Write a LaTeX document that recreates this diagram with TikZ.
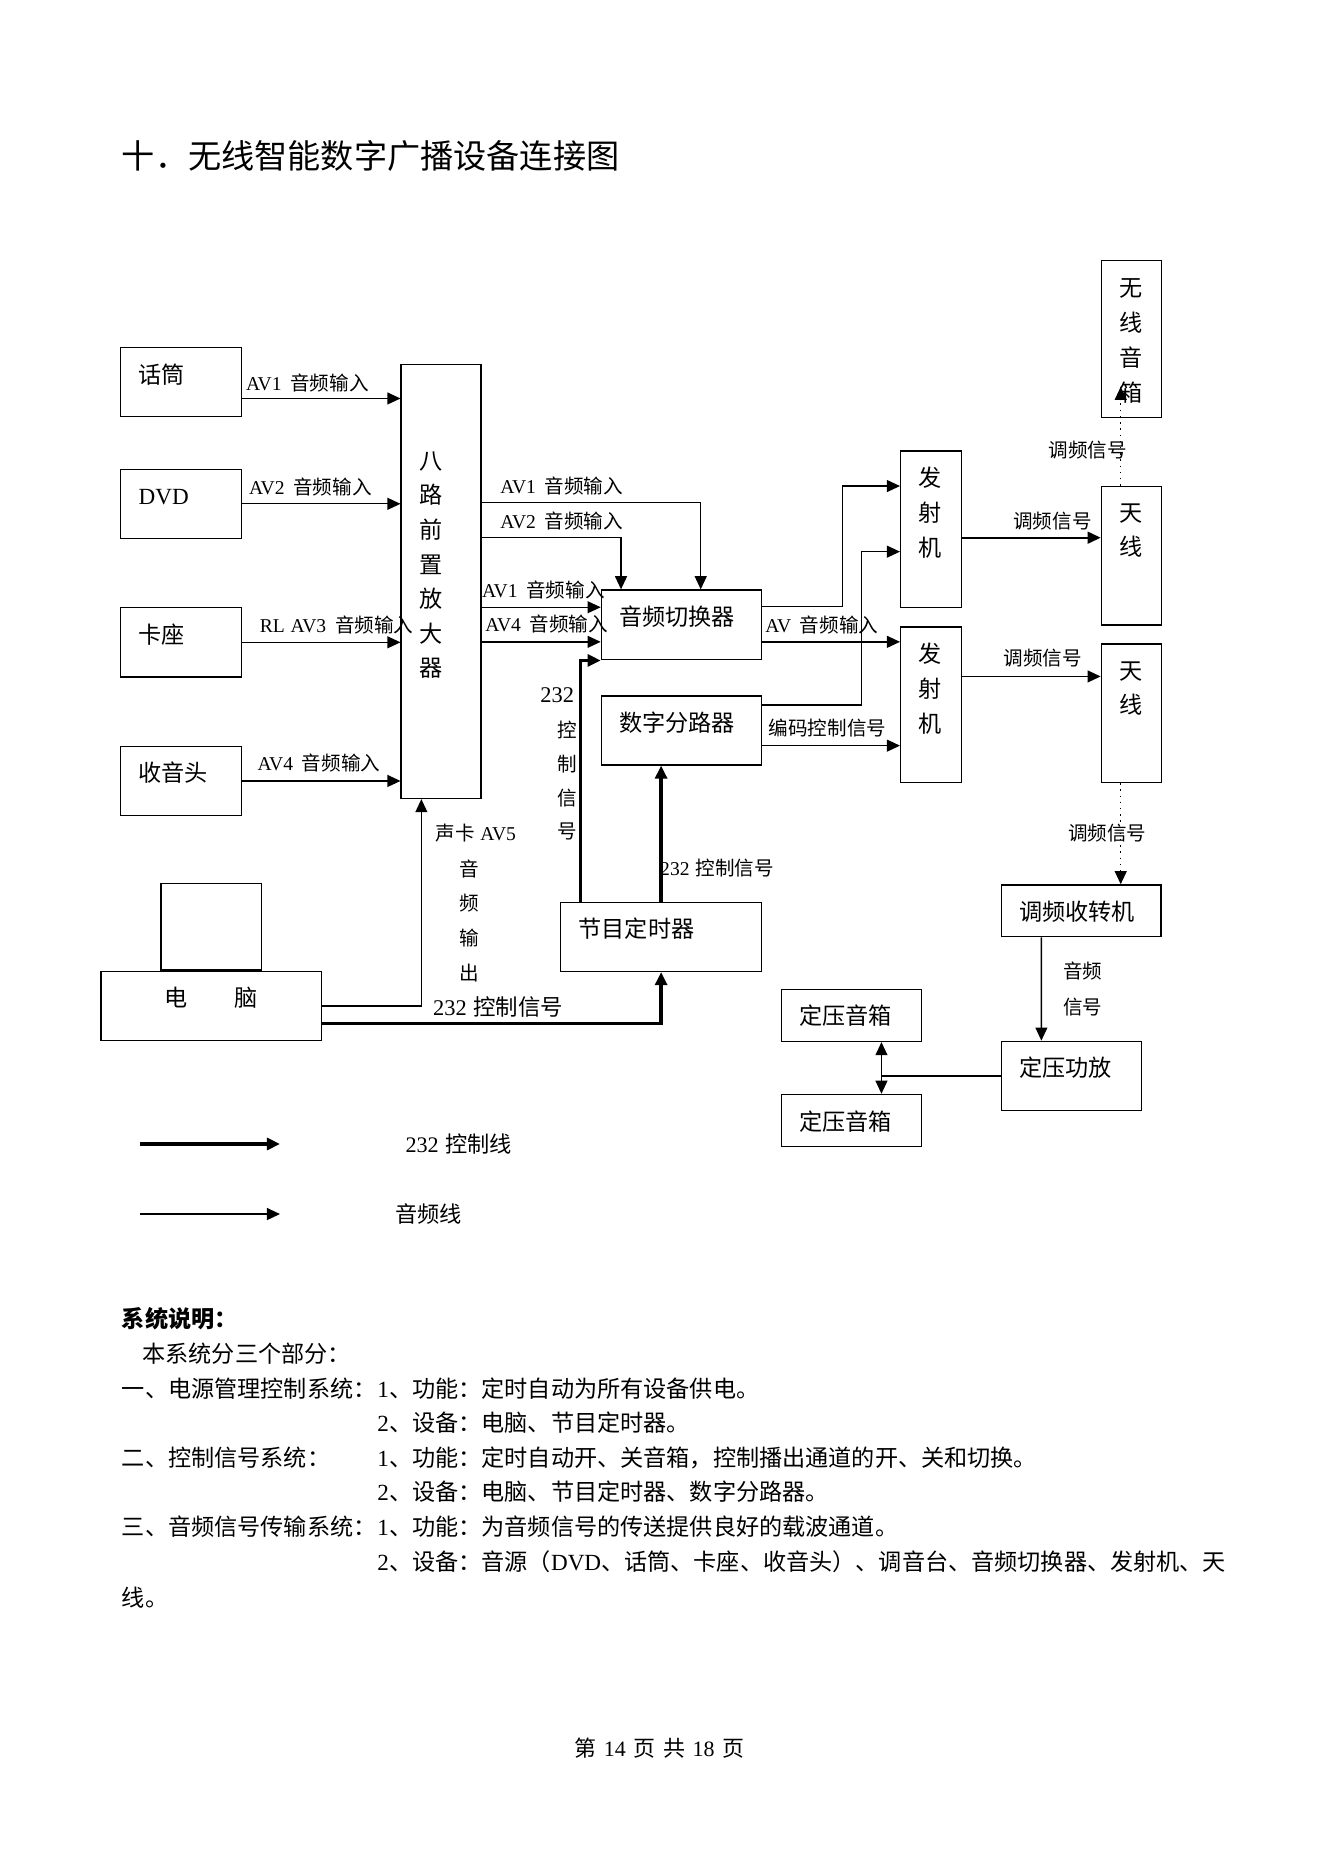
\documentclass[tikz,border=0pt]{standalone}
\usepackage{fontspec}
\setmainfont{Noto Sans CJK SC}
\newfontfamily\lat{Liberation Serif}
\usepackage{tikz}
\usetikzlibrary{arrows.meta,positioning}

\newcommand{\fsz}[2]{\fontsize{#1pt}{#2pt}\selectfont}
\newcommand{\avin}[1]{{\lat AV#1}\hspace{0.45em}音频输入}

\begin{document}
\begin{tikzpicture}[x=0.5pt, y=-0.5pt, >={Triangle[length=5.5pt,width=5pt]},
  unit/.style={draw, line width=0.6pt, anchor=north west, inner xsep=7.5pt, inner ysep=0pt,
    align=left, text height=14.9pt, font=\fsz{9.7}{14.5}},
  lbl/.style={inner sep=0pt, anchor=west, font=\fsz{8.2}{14.2}},
  body/.style={inner sep=0pt, anchor=west, font=\fsz{9.7}{14.5}},
  audio/.style={->, line width=0.55pt},
  ctrl/.style={->, line width=1.4pt},
  fm/.style={->, dotted, line width=0.6pt}]
\fill[white] (0,0) rectangle (1109,1568.3);

% Title
\node[lbl, font=\fsz{13.9}{16}] (title) at (101.8,131) {十．无线智能数字广播设备连接图};

% Sources
\node[unit, text width=35.5pt, text depth=14.1pt] (mic) at (100.6,290.7) {话筒};
\node[unit, text width=35.5pt, text depth=14.1pt] (dvd) at (100.6,392.7) {\lat DVD};
\node[unit, text width=35.5pt, text depth=14.1pt] (deck) at (100.6,508.8) {卡座};
\node[unit, text width=35.5pt, text depth=14.1pt] (radio) at (100.6,625) {收音头};

% Preamplifier
\node[unit, text width=18.5pt, text height=43.8pt, text depth=137.95pt] (pre) at (335.7,305.1)
{八\\路\\前\\置\\放\\大\\器};

% Switcher and splitter
\node[unit, text width=52.05pt, text depth=14.3pt] (sw) at (503.5,494) {音频切换器};
\node[unit, text width=52.05pt, text depth=13.9pt, below=14.65pt of sw] (dsp) {数字分路器};

% Transmitters
\node[unit, text width=10.45pt, text depth=50.55pt, font=\fsz{9.7}{14.6}] (tx1) at (754.4,377.6) {发\\射\\机};
\node[unit, text width=10.45pt, text depth=50.3pt, font=\fsz{9.7}{14.6}, below=7.55pt of tx1] (tx2) {发\\射\\机};

% Antennas and wireless speaker
\node[unit, text width=10.2pt, text depth=50.85pt, font=\fsz{9.7}{14.65}] (wsp) at (922.6,217.9) {无\\线\\音\\箱};
\node[unit, text width=10.2pt, text depth=43.2pt, font=\fsz{9.7}{14.1}] (ant1) at (922.6,407) {天\\线};
\node[unit, text width=10.2pt, text depth=43.1pt, font=\fsz{9.7}{14.1}, below=7.4pt of ant1] (ant2) {天\\线};

% Timer and computer
\node[unit, text width=69.15pt, text depth=14pt] (timer) at (469.4,755.8) {节目定时器};
\node[unit, text width=77.6pt, text depth=14.15pt, align=center] (pc) at (83.9,813.6) {电　　脑};
\node[draw, line width=0.6pt, inner sep=0pt, minimum width=42.1pt, minimum height=36.15pt, above=0pt of pc] (mon) {};

% Receiver side
\node[unit, text width=51.8pt, text depth=6.8pt] (fmr) at (838.8,741.2) {调频收转机};
\node[unit, text width=43.7pt, text depth=14.15pt] (amp) at (838.8,872.3) {定压功放};
\node[unit, text width=43.65pt, text depth=6.9pt] (spk1) at (654.4,828.7) {定压音箱};
\node[unit, text width=43.65pt, text depth=6.8pt, below=21.65pt of spk1] (spk2) {定压音箱};

% Labels
\node[lbl] (l1) at (205.8,320.7) {\avin{1}};
\node[lbl] (l2) at (208.4,408) {\avin{2}};
\node[lbl] (l3) at (217.4,524) {{\lat RL\hspace{0.3em}}\avin{3}};
\node[lbl] (l4) at (215.5,639.3) {\avin{4}};
\node[lbl] (l5) at (419.1,407.4) {\avin{1}};
\node[lbl] (l6) at (419.1,436.4) {\avin{2}};
\node[lbl] (l7) at (403.7,494.6) {\avin{1}};
\node[lbl] (l8) at (406.5,523.3) {\avin{4}};
\node[lbl] (l9) at (641.2,524) {\avin{}};
\node[lbl] (l10) at (644,610.5) {编码控制信号};
\node[lbl] (l11) at (849,436.7) {调频信号};
\node[lbl] (l12) at (841,551.8) {调频信号};
\node[lbl] (l13) at (878.5,377) {调频信号};
\node[lbl] (l14) at (895,698) {调频信号};
\node[lbl, anchor=base west, align=left, font=\fsz{8.2}{15.1}] (l15) at (890.7,850) {音频\\信号};
\node[lbl] (l16) at (364.6,698.5) {声卡\hspace{0.3em}{\lat AV5}};
\node[lbl, anchor=base west, align=left, font=\fsz{8.2}{14.5}] (l17) at (384.4,821.5) {音\\频\\输\\出};
\node[lbl, font=\fsz{9.4}{12}] (l18) at (452.6,582.6) {\lat 232};
\node[lbl, anchor=base west, align=left, font=\fsz{8.2}{14.15}] (l19) at (466.8,703.2) {控\\制\\信\\号};
\node[lbl] (l20) at (553,727.9) {{\lat 232}\hspace{0.3em}控制信号};
\node[lbl, font=\fsz{9.4}{12}] (l21) at (362.7,843.8) {{\lat 232}\hspace{0.3em}控制信号};

% Connectors
\draw[audio] (mic.east |- 0,334) -- (pre.west |- 0,334);
\draw[audio] (dvd.east) -- (dvd.east -| pre.west);
\draw[audio] (deck.east) -- (deck.east -| pre.west);
\draw[audio] (radio.east) -- (radio.east -| pre.west);
\draw[audio] (pre.east |- 0,421.4) -| ([xshift=8.1pt]sw.north);
\draw[audio] (pre.east |- 0,450.7) -| ([xshift=-25.3pt]sw.north);
\draw[audio] (pre.east |- 0,509) -- (sw.west |- 0,509);
\draw[audio] (pre.east |- 0,538) -- (sw.west |- 0,538);
\draw[audio] (sw.east |- 0,508.5) -- ++(67.1,0) |- (tx1.west |- 0,407.4);
\draw[audio] (sw.east |- 0,538) -- (tx2.west |- 0,538);
\draw[audio] (dsp.east |- 0,591) -- ++(83.4,0) |- (tx1.west |- 0,462.4);
\draw[audio] (dsp.east |- 0,625) -- (tx2.west |- 0,625);
\draw[audio, line width=0.8pt] (tx1.east |- 0,450.7) -- (ant1.west |- 0,450.7);
\draw[audio] (tx2.east |- 0,567) -- (ant2.west |- 0,567);
\draw[fm] ([xshift=-4.5pt]ant1.north) -- ([xshift=-4.5pt,yshift=13.2pt]wsp.south);
\draw[fm] ([xshift=-4.5pt]ant2.south) -- ([xshift=16.6pt]fmr.north);
\draw[audio] ([xshift=-16.65pt]fmr.south) -- ([xshift=-12.6pt]amp.north);
\path ([xshift=12.6pt]spk1.south) coordinate (sp1) ([xshift=12.6pt]spk2.north) coordinate (sp2);
\draw[line width=1pt] (amp.west) -- (amp.west -| sp1);
\draw[audio, <->] (sp1) -- (sp2);
\draw[audio] (pc.east) -| ([xshift=-8.3pt]pre.south);
\draw[ctrl] (pc.east |- 0,857.8) -| (timer.south);
\draw[ctrl] ([xshift=-33.8pt]timer.north) |- (sw.south west);
\draw[ctrl] (timer.north) -- (timer.north |- dsp.south);

% Legend
\coordinate (lgA) at (117.4,958.9);
\coordinate (lgB) at (234.7,958.9);
\coordinate (lgC) at (117.4,1017.6);
\coordinate (lgD) at (234.7,1017.6);
\draw[ctrl] (lgA) -- (lgB);
\draw[audio, line width=0.75pt] (lgC) -- (lgD);
\node[lbl, font=\fsz{9.3}{12}] (lg1) at (339.5,959) {{\lat 232}\hspace{0.3em}控制线};
\node[lbl, font=\fsz{9.3}{12}] (lg2) at (331,1017.6) {音频线};

% System description
\node[body] (d0) at (101.8,1105) {\bfseries 系统说明：};
\node[body] (d1) at (119,1134.4) {本系统分三个部分：};
\node[body] (d2) at (101.8,1163.7) {一、电源管理控制系统：};
\node[body] (d3) at (316,1163.7) {{\lat 1}、功能：定时自动为所有设备供电。};
\node[body] (d4) at (316,1192.7) {{\lat 2}、设备：电脑、节目定时器。};
\node[body] (d5) at (101.8,1221.7) {二、控制信号系统：};
\node[body] (d6) at (316,1221.7) {{\lat 1}、功能：定时自动开、关音箱，控制播出通道的开、关和切换。};
\node[body] (d7) at (316,1250.7) {{\lat 2}、设备：电脑、节目定时器、数字分路器。};
\node[body] (d8) at (101.8,1279.7) {三、音频信号传输系统：};
\node[body] (d9) at (316,1279.7) {{\lat 1}、功能：为音频信号的传送提供良好的载波通道。};
\node[body] (d10) at (316,1308.7) {{\lat 2}、设备：音源（{\lat DVD}、话筒、卡座、收音头）、调音台、音频切换器、发射机、天};
\node[body] (d11) at (101.8,1339) {线。};

% Footer
\node[inner sep=0pt, font=\fsz{9.2}{11}] (foot) at (552.6,1465)
{第\hspace{0.35em}{\lat 14}\hspace{0.35em}页\hspace{0.35em}共\hspace{0.35em}{\lat 18}\hspace{0.35em}页};
\end{tikzpicture}
\end{document}
